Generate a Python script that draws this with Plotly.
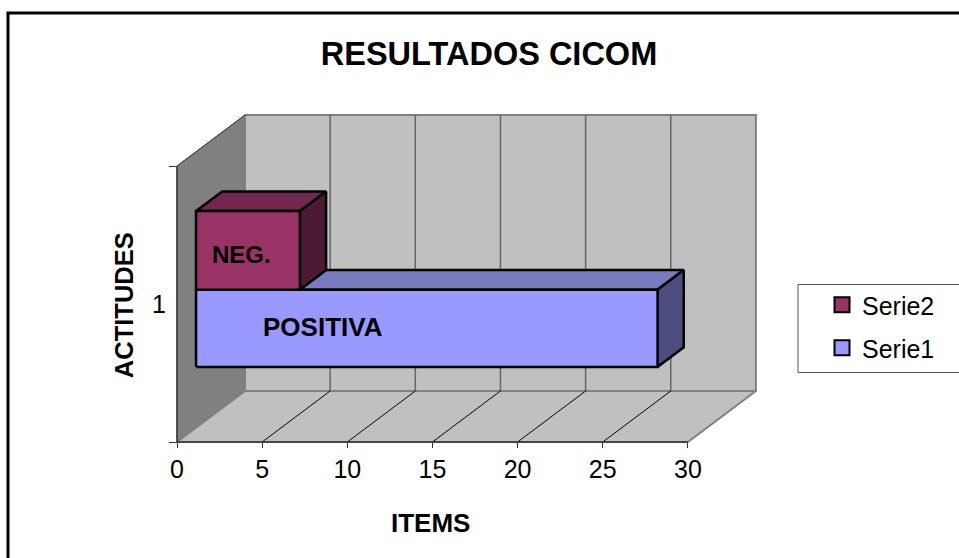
import plotly.graph_objects as go

categories = ["1"]
series_names = ["Serie1", "Serie2"]
series_values = [27.1, 6.1]
series_labels = ["POSITIVA", "NEG."]
x_ticks = [0, 5, 10, 15, 20, 25, 30]

W, H = 959, 558
X_PX = 17.03  # pixels per item
Y_PX = 276.0  # pixels per category band
ORIGIN = (177, 442)
DEPTH_DX = 68 / X_PX
DEPTH_DY = 51 / Y_PX

FRONT_COLORS = ["#9999FF", "#993366"]
TOP_COLORS = ["#7A7ABF", "#732650"]
SIDE_COLORS = ["#4D4D80", "#4D1A33"]
EDGE = "#808080"
WALL = "#C0C0C0"
FONT = "Liberation Sans, Arial, sans-serif"

X_MAX = x_ticks[-1]
BAR_D0, BAR_D1 = 0.28, 0.665
BAR_BANDS = [(0.22, 0.5), (0.5, 0.785)]


def proj(v, h, d=0.0):
    return v + d * DEPTH_DX, h + d * DEPTH_DY


fig = go.Figure()


def face(points, fill, line=EDGE, width=1.0):
    xs, ys = zip(*[proj(*p) for p in points])
    fig.add_trace(
        go.Scatter(
            x=list(xs) + [xs[0]],
            y=list(ys) + [ys[0]],
            mode="lines",
            fill="toself",
            fillcolor=fill,
            line=dict(color=line, width=width),
            showlegend=False,
            hoverinfo="skip",
        )
    )


def seg(p0, p1, color, width=1.0):
    x0, y0 = proj(*p0)
    x1, y1 = proj(*p1)
    fig.add_trace(
        go.Scatter(
            x=[x0, x1],
            y=[y0, y1],
            mode="lines",
            line=dict(color=color, width=width),
            showlegend=False,
            hoverinfo="skip",
        )
    )


# walls and floor
face([(0, 0, 0), (0, 1, 0), (0, 1, 1), (0, 0, 1)], "#808080", "#808080", 1)
face([(0, 0, 1), (0, 1, 1), (X_MAX, 1, 1), (X_MAX, 0, 1)], WALL, EDGE, 2)
face([(0, 0, 0), (0, 0, 1), (X_MAX, 0, 1), (X_MAX, 0, 0)], WALL, EDGE, 2)
seg((0, 1, 0), (0, 1, 1), "#333333", 1)

for t in x_ticks[1:-1]:
    seg((t, 0, 1), (t, 1, 1), "#666666", 1.5)
    seg((t, 0, 0), (t, 0, 1), "#000000", 1)

seg((0, 0, 0), (X_MAX, 0, 0), "#333333", 1.5)
seg((0, 0, 0), (0, 1, 0), "#333333", 1.5)

# bars, back series first so Serie2 sits on top of it
for i, val in enumerate(series_values):
    h0, h1 = BAR_BANDS[i]
    face(
        [(0, h1, BAR_D0), (0, h1, BAR_D1), (val, h1, BAR_D1), (val, h1, BAR_D0)],
        TOP_COLORS[i], "#000000", 2.5,
    )
    face(
        [(val, h0, BAR_D0), (val, h1, BAR_D0), (val, h1, BAR_D1), (val, h0, BAR_D1)],
        SIDE_COLORS[i], "#000000", 2.5,
    )
    face(
        [(0, h0, BAR_D0), (0, h1, BAR_D0), (val, h1, BAR_D0), (val, h0, BAR_D0)],
        FRONT_COLORS[i], "#000000", 2.5,
    )

# legend entries, Serie2 listed first
for i in [1, 0]:
    fig.add_trace(
        go.Scatter(
            x=[None],
            y=[None],
            mode="markers",
            name=series_names[i],
            legendgroup=series_names[i],
            marker=dict(symbol="square", size=15, color=FRONT_COLORS[i], line=dict(color="#000000", width=2)),
        )
    )

fig.add_annotation(x=8.57, y=0.417, text=f"<b>{series_labels[0]}</b>", showarrow=False, font=dict(family=FONT, size=26, color="#000000"))
fig.add_annotation(x=3.8, y=0.68, text=f"<b>{series_labels[1]}</b>", showarrow=False, font=dict(family=FONT, size=24, color="#000000"))
fig.add_annotation(x=14.9, y=-0.295, text="<b>ITEMS</b>", showarrow=False, font=dict(family=FONT, size=26, color="#000000"))
fig.add_annotation(x=-3.15, y=0.497, text="<b>ACTITUDES</b>", textangle=-90, showarrow=False, font=dict(family=FONT, size=25.5, color="#000000"))

# outer chart frame and legend frame
fig.add_shape(type="rect", xref="paper", yref="paper", x0=8 / W, x1=1.02, y0=-0.02, y1=1 - 13 / H,
              line=dict(color="#000000", width=3), layer="below")
fig.add_shape(type="rect", xref="paper", yref="paper", x0=798 / W, x1=1.02, y0=1 - 372.5 / H, y1=1 - 284.5 / H,
              line=dict(color="#555555", width=1), layer="below")

fig.update_layout(
    width=W,
    height=H,
    margin=dict(l=0, r=0, t=0, b=0),
    paper_bgcolor="#FFFFFF",
    plot_bgcolor="rgba(0,0,0,0)",
    font=dict(family=FONT, color="#000000"),
    title=dict(
        text="<b>RESULTADOS CICOM</b>",
        x=489 / W,
        y=1 - 54 / H,
        xanchor="center",
        yanchor="middle",
        font=dict(family=FONT, size=32.5, color="#000000"),
    ),
    showlegend=True,
    legend=dict(
        x=822 / W,
        y=1 - 282 / H,
        xanchor="left",
        yanchor="top",
        bgcolor="rgba(0,0,0,0)",
        font=dict(family=FONT, size=25, color="#000000"),
        traceorder="grouped",
        tracegroupgap=7.5,
        itemclick=False,
        itemdoubleclick=False,
    ),
    xaxis=dict(
        range=[-ORIGIN[0] / X_PX, (W - ORIGIN[0]) / X_PX],
        anchor="free",
        position=(H - ORIGIN[1]) / H,
        tickvals=x_ticks,
        ticks="outside",
        ticklen=5,
        tickcolor="#333333",
        tickfont=dict(family=FONT, size=25),
        showgrid=False,
        zeroline=False,
        showline=False,
        fixedrange=True,
    ),
    yaxis=dict(
        range=[(ORIGIN[1] - H) / Y_PX, ORIGIN[1] / Y_PX],
        anchor="free",
        position=ORIGIN[0] / W,
        tickvals=[0.5],
        ticktext=categories,
        ticks="outside",
        ticklen=6,
        tickcolor="rgba(0,0,0,0)",
        tickfont=dict(family=FONT, size=25),
        minor=dict(tickvals=[0, 1], ticks="outside", ticklen=8, tickcolor="#333333"),
        showgrid=False,
        zeroline=False,
        showline=False,
        fixedrange=True,
    ),
)

# plotly's page keeps the browser's default 8px body margin
fig.write_html(
    "out.html",
    config={"displayModeBar": False},
    post_script="document.body.style.margin='0';",
)
